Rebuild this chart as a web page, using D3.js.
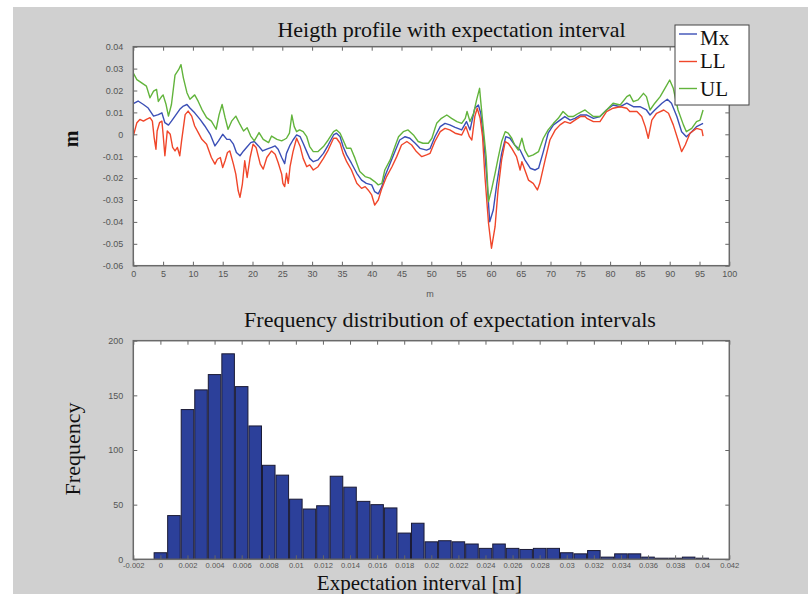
<!DOCTYPE html>
<html><head><meta charset="utf-8">
<script src="https://cdn.jsdelivr.net/npm/d3@7"></script>
<style>body{margin:0;background:#fff}svg{display:block}</style>
</head><body><svg id="c" width="808" height="594"></svg>
<script>
// ---------- DATA ----------
// Height profile: [distance m, height m]
const mxProfile = [[0,0.014],[0.8,0.0152],[1.7,0.0136],[2.5,0.012],[3.4,0.0083],[4.2,0.009],[4.8,0.0098],[5.3,0.0053],[5.9,0.0042],[6.4,0.006],[7.0,0.0083],[7.8,0.0114],[8.4,0.0129],[9.0,0.0136],[9.5,0.012],[10.3,0.0098],[11.2,0.0068],[12.0,0.0038],[12.9,0],[13.7,-0.0053],[14.3,-0.003],[15.0,0],[15.7,-0.0023],[16.2,-0.0023],[16.8,-0.0045],[17.3,-0.0083],[17.9,-0.0098],[18.5,-0.0076],[19.0,-0.006],[19.7,-0.0038],[20.3,-0.0033],[21.0,-0.0053],[21.7,-0.0076],[22.4,-0.0068],[23.2,-0.006],[23.8,-0.0053],[24.3,-0.0068],[24.9,-0.0106],[25.4,-0.0134],[25.7,-0.0087],[26.3,-0.0049],[26.8,-0.0026],[27.4,-0.0003],[28.0,-0.0011],[28.5,-0.0041],[29.1,-0.0079],[29.6,-0.011],[30.2,-0.0125],[31.0,-0.0117],[31.9,-0.0087],[32.7,-0.0049],[33.6,-0.0003],[34.1,0.0005],[34.7,-0.0011],[35.2,-0.0056],[35.8,-0.0094],[36.6,-0.0132],[37.5,-0.0178],[38.3,-0.0209],[39.1,-0.0224],[40.0,-0.0231],[40.5,-0.0262],[41.1,-0.0272],[41.7,-0.0239],[42.2,-0.0193],[43.1,-0.0132],[43.9,-0.0079],[44.7,-0.0026],[45.6,-0.0011],[46.4,-0.0018],[47.3,-0.0041],[48.1,-0.0064],[49.2,-0.0072],[49.8,-0.0065],[50.6,-0.0011],[51.5,0.0035],[52.3,0.005],[53.1,0.0043],[54.0,0.0032],[55.1,0.002],[55.9,0.0058],[56.5,0.002],[57.3,0.0119],[57.9,0.0134],[58.3,0.0096],[58.8,-0.0026],[59.3,-0.0193],[59.8,-0.0399],[60.4,-0.0346],[61.0,-0.0224],[61.8,-0.0087],[62.5,-0.0011],[63.2,-0.0018],[64.0,-0.0049],[64.9,-0.0072],[65.7,-0.0117],[66.6,-0.0155],[67.4,-0.0163],[68.0,-0.0155],[68.8,-0.0079],[69.6,0.0005],[70.5,0.0043],[71.6,0.0065],[72.4,0.0081],[73.3,0.0065],[74.1,0.0073],[75.0,0.0088],[75.8,0.0088],[76.1,0.0088],[77.2,0.0073],[78.3,0.0081],[79.4,0.0111],[80.5,0.0134],[81.7,0.0126],[82.8,0.0142],[83.9,0.0126],[85.0,0.0126],[86.1,0.0111],[86.7,0.0088],[87.5,0.0111],[88.7,0.0142],[89.6,0.016],[90.3,0.0142],[91.2,0.0081],[92.0,0.0012],[92.8,-0.0011],[93.7,0.0012],[94.5,0.0035],[95.6,0.005]];

const llProfile = [[0,-0.0008],[0.6,0.0053],[1.1,0.0068],[1.7,0.006],[2.2,0.0068],[2.8,0.0076],[3.2,0.006],[3.5,-0.0015],[3.8,-0.0068],[4.0,0.0015],[4.4,0.0053],[4.8,0.006],[5.0,0],[5.3,-0.0098],[5.7,0.0015],[6.2,0],[6.6,-0.006],[7.0,-0.0076],[7.4,-0.006],[7.8,-0.0098],[8.1,-0.003],[8.7,0.009],[9.2,0.0106],[9.8,0.0083],[10.3,0.0038],[10.9,0.0008],[11.5,-0.0023],[12.3,-0.0045],[13.1,-0.0106],[13.7,-0.0136],[14.1,-0.0114],[14.6,-0.0106],[15.0,-0.0152],[15.4,-0.0121],[15.8,-0.0083],[16.2,-0.0076],[16.8,-0.0136],[17.2,-0.0182],[17.6,-0.0258],[17.9,-0.0288],[18.3,-0.0227],[18.7,-0.0121],[19.1,-0.0197],[19.6,-0.0106],[20.1,-0.0045],[20.6,-0.006],[21.3,-0.0136],[21.8,-0.0159],[22.4,-0.0106],[23.2,-0.0076],[23.8,-0.0091],[24.3,-0.0129],[24.9,-0.0182],[25.1,-0.0224],[25.4,-0.0239],[25.7,-0.0178],[26.0,-0.0224],[26.3,-0.0148],[26.8,-0.0079],[27.4,-0.0018],[28.0,-0.0056],[28.5,-0.011],[29.1,-0.0148],[29.6,-0.014],[30.2,-0.0163],[31.0,-0.0148],[31.9,-0.011],[32.7,-0.0072],[33.6,-0.0018],[34.1,-0.0018],[34.7,-0.0041],[35.2,-0.0087],[35.8,-0.0125],[36.6,-0.0163],[37.5,-0.0224],[38.3,-0.0247],[38.9,-0.0239],[39.4,-0.0254],[40.0,-0.0277],[40.5,-0.0323],[41.1,-0.03],[41.7,-0.0247],[42.5,-0.0193],[43.4,-0.0148],[44.2,-0.0102],[45.0,-0.0049],[45.9,-0.0033],[46.7,-0.0049],[47.5,-0.0079],[48.4,-0.0102],[49.2,-0.0094],[49.8,-0.0087],[50.6,-0.0033],[51.5,0.0012],[52.3,0.0027],[53.1,0.002],[54.0,0.0005],[55.1,-0.0003],[55.8,0.0035],[56.4,-0.0011],[56.8,-0.0026],[57.3,0.0081],[57.7,0.0119],[58.2,0.0073],[58.6,-0.0011],[59.0,-0.0193],[59.6,-0.0406],[60.1,-0.052],[60.7,-0.0422],[61.2,-0.0254],[61.8,-0.0117],[62.4,-0.0033],[62.9,-0.0041],[63.5,-0.0064],[64.3,-0.0102],[64.9,-0.0163],[65.2,-0.0125],[65.7,-0.0163],[66.3,-0.0209],[67.1,-0.0224],[67.8,-0.0254],[68.2,-0.0224],[69.1,-0.0117],[69.9,-0.0026],[70.8,0.002],[71.6,0.0043],[72.4,0.0058],[73.3,0.005],[74.1,0.0065],[75.0,0.0081],[75.8,0.0081],[76.1,0.0073],[77.2,0.0058],[78.3,0.0058],[79.4,0.0104],[80.5,0.0119],[81.7,0.0126],[82.8,0.0119],[83.3,0.0104],[84.5,0.0104],[85.3,0.0081],[85.9,0.0035],[86.4,-0.0018],[87.0,0.0065],[87.8,0.0096],[89.0,0.0111],[89.8,0.0096],[90.6,0.0043],[91.4,-0.0026],[92.0,-0.0079],[92.6,-0.0049],[93.4,0.0005],[94.5,0.0027],[95.4,0.002],[95.6,-0.0008]];

const ulProfile = [[0,0.028],[0.6,0.025],[1.4,0.0235],[2.2,0.022],[2.8,0.0167],[3.4,0.0197],[3.9,0.0205],[4.2,0.015],[4.8,0.0174],[5.0,0.018],[5.5,0.0136],[5.9,0.0083],[6.4,0.0136],[7.0,0.027],[7.6,0.0295],[8.0,0.0318],[8.4,0.0258],[9.0,0.019],[9.5,0.016],[10.3,0.018],[10.9,0.015],[11.5,0.0114],[12.3,0.0076],[13.1,0.006],[13.9,0.0023],[14.4,0.009],[14.9,0.0136],[15.4,0.0076],[15.9,0.0023],[16.5,0.006],[17.2,0.0083],[17.9,0.0045],[18.5,0.0015],[19.1,0.003],[19.7,-0.0008],[20.3,-0.003],[21.1,0.0008],[21.8,-0.0023],[22.7,-0.0038],[23.2,-0.0008],[24.1,-0.0023],[24.9,-0.003],[25.2,-0.0026],[25.7,-0.0018],[26.2,0.0005],[26.6,0.0088],[27.0,0.0035],[27.4,0.0012],[27.9,0.002],[28.5,0.0012],[29.1,-0.0011],[29.6,-0.0056],[30.2,-0.0079],[31.0,-0.0079],[31.9,-0.0056],[32.7,-0.0026],[33.6,0.0012],[34.1,0.002],[34.7,0.0005],[35.2,-0.0026],[35.8,-0.0064],[36.5,-0.0064],[37.2,-0.011],[38.0,-0.017],[38.9,-0.0193],[39.7,-0.02],[40.5,-0.0216],[41.1,-0.0231],[41.7,-0.0224],[42.2,-0.0163],[43.1,-0.0117],[43.9,-0.0056],[44.5,-0.0011],[45.3,0.0012],[46.1,0.002],[47.0,-0.0003],[47.8,-0.0033],[48.6,-0.0041],[49.5,-0.0041],[50.1,-0.0018],[50.6,0.0025],[50.9,0.005],[51.7,0.0073],[52.6,0.0088],[53.4,0.0073],[54.3,0.0058],[55.1,0.005],[55.7,0.0073],[56.0,0.0104],[56.5,0.0058],[57.1,0.0096],[57.6,0.0157],[58.1,0.021],[58.3,0.0149],[58.7,0.0035],[59.2,-0.0102],[59.6,-0.0307],[60.1,-0.0254],[60.7,-0.0178],[61.2,-0.011],[61.8,-0.0033],[62.4,0.0012],[62.9,0.0005],[63.5,-0.0018],[64.0,-0.0049],[64.6,-0.0072],[65.2,-0.0018],[65.7,-0.0072],[66.3,-0.0102],[67.1,-0.0094],[68.0,-0.0079],[68.8,-0.0018],[69.6,0.002],[70.5,0.005],[71.3,0.0073],[72.1,0.0104],[73.0,0.0081],[73.8,0.0081],[74.7,0.0096],[75.8,0.0111],[76.1,0.0104],[77.2,0.0081],[78.3,0.0081],[79.4,0.0111],[80.5,0.0142],[81.7,0.0134],[82.8,0.0172],[83.3,0.018],[83.9,0.0149],[84.7,0.0157],[85.6,0.0187],[86.1,0.0172],[86.7,0.0111],[87.5,0.0142],[88.4,0.0172],[89.2,0.021],[90.0,0.0248],[90.6,0.021],[91.4,0.0111],[92.3,0.0043],[92.8,0.0012],[93.7,0.0027],[94.5,0.0058],[95.1,0.0065],[95.6,0.0111]];

const seriesNames = ["Mx", "LL", "UL"];
const seriesColors = ["#3b4fb6", "#f0462a", "#62b43c"];

const profileXTicks = [0,5,10,15,20,25,30,35,40,45,50,55,60,65,70,75,80,85,90,95,100];
const profileYTicks = [0.04,0.03,0.02,0.01,0,-0.01,-0.02,-0.03,-0.04,-0.05,-0.06];

// Histogram: bin centres [m] and counts
const binCenters = [0,0.001,0.002,0.003,0.004,0.005,0.006,0.007,0.008,0.009,0.010,0.011,0.012,0.013,0.014,0.015,0.016,0.017,0.018,0.019,0.020,0.021,0.022,0.023,0.024,0.025,0.026,0.027,0.028,0.029,0.030,0.031,0.032,0.033,0.034,0.035,0.036,0.037,0.038,0.039,0.040];
const binCounts  = [6,40,137,155,169,188,158,122,86,77,55,46,49,76,66,53,50,47,24,33,16,17,16,14,10,14,10,9,10,10,6,5,8,2,5,5,2,1,1,2,1];
const binWidth = 0.001;
const histXTicks = [-0.002,0,0.002,0.004,0.006,0.008,0.01,0.012,0.014,0.016,0.018,0.02,0.022,0.024,0.026,0.028,0.03,0.032,0.034,0.036,0.038,0.04,0.042];
const histYTicks = [0,50,100,150,200];

// ---------- DRAWING ----------
const svg = d3.select("#c");
const SERIF = "'Liberation Serif','Times New Roman',serif";
const SANS = "'Liberation Sans',Arial,sans-serif";

svg.append("rect").attr("x",13).attr("y",7).attr("width",795).attr("height",587).attr("fill","#d0d0d0");

const fmt = d => String(+d.toFixed(4));

function frameAxes(g, P, xs, ys, xTicks, yTicks, xFs, yFs, xPad) {
  const tk = (sel) => { sel.select(".domain").remove(); sel.selectAll(".tick line").attr("stroke","#666").attr("stroke-width",1); };
  g.append("g").attr("transform",`translate(${P.l},0)`)
    .call(d3.axisLeft(ys).tickValues(yTicks).tickSize(-4).tickPadding(10).tickFormat(fmt))
    .call(tk).call(s=>s.selectAll("text").attr("font-family",SANS).attr("font-size",yFs).attr("fill","#555"));
  g.append("g").attr("transform",`translate(${P.r},0)`)
    .call(d3.axisRight(ys).tickValues(yTicks).tickSize(-4).tickFormat(""))
    .call(tk);
  g.append("g").attr("transform",`translate(0,${P.t})`)
    .call(d3.axisTop(xs).tickValues(xTicks).tickSize(-4).tickFormat(""))
    .call(tk);
  g.append("g").attr("transform",`translate(0,${P.b})`)
    .call(d3.axisBottom(xs).tickValues(xTicks).tickSize(-4).tickPadding(xPad).tickFormat(fmt))
    .call(tk).call(s=>s.selectAll("text").attr("font-family",SANS).attr("font-size",xFs).attr("fill","#555"));
  g.append("rect").attr("x",P.l).attr("y",P.t).attr("width",P.r-P.l).attr("height",P.b-P.t)
    .attr("fill","none").attr("stroke","#6a6a6a").attr("stroke-width",1.5);
}

// ---- top panel ----
const P1 = {l:133.3, r:729.3, t:46.7, b:265.7};
const x1 = d3.scaleLinear().domain([0,100]).range([P1.l,P1.r]);
const y1 = d3.scaleLinear().domain([-0.06,0.04]).range([P1.b,P1.t]);
const g1 = svg.append("g");
g1.append("rect").attr("x",P1.l).attr("y",P1.t).attr("width",P1.r-P1.l).attr("height",P1.b-P1.t).attr("fill","#fff");
g1.append("clipPath").attr("id","cp1").append("rect").attr("x",P1.l).attr("y",P1.t).attr("width",P1.r-P1.l).attr("height",P1.b-P1.t);
const line1 = d3.line().x(d=>x1(d[0])).y(d=>y1(d[1]));
[mxProfile, llProfile, ulProfile].forEach((s,i)=>{
  g1.append("path").datum(s).attr("clip-path","url(#cp1)").attr("d",line1)
    .attr("fill","none").attr("stroke",seriesColors[i]).attr("stroke-width",1.4).attr("stroke-linejoin","round");
});
frameAxes(g1, P1, x1, y1, profileXTicks, profileYTicks, 9, 9, 5);

svg.append("text").attr("x",451.5).attr("y",37).attr("text-anchor","middle")
  .attr("font-family",SERIF).attr("font-size",22).attr("fill","#111")
  .text("Heigth profile with expectation interval");
svg.append("text").attr("x",430).attr("y",296.5).attr("text-anchor","middle")
  .attr("font-family",SANS).attr("font-size",9).attr("fill","#555").text("m");
svg.append("text").attr("transform","translate(78,139) rotate(-90)").attr("text-anchor","middle")
  .attr("font-family",SERIF).attr("font-weight","bold").attr("font-size",20).attr("fill","#111").text("m");

// legend
const lg = svg.append("g");
lg.append("rect").attr("x",675).attr("y",25).attr("width",74).attr("height",80)
  .attr("fill","#fff").attr("stroke","#444").attr("stroke-width",1);
const legLineY = [34, 61.5, 88.5];
const legTextY = [44.5, 68, 96];
seriesNames.forEach((n,i)=>{
  lg.append("line").attr("x1",679).attr("x2",697).attr("y1",legLineY[i]).attr("y2",legLineY[i])
    .attr("stroke",seriesColors[i]).attr("stroke-width",1.4);
  lg.append("text").attr("x",700).attr("y",legTextY[i]).attr("font-family",SERIF)
    .attr("font-size",21).attr("fill","#111").text(n);
});

// ---- bottom panel ----
const P2 = {l:133.3, r:729.3, t:340.7, b:559.3};
const x2 = d3.scaleLinear().domain([-0.002,0.042]).range([P2.l,P2.r]);
const y2 = d3.scaleLinear().domain([0,200]).range([P2.b,P2.t]);
const g2 = svg.append("g");
g2.append("rect").attr("x",P2.l).attr("y",P2.t).attr("width",P2.r-P2.l).attr("height",P2.b-P2.t).attr("fill","#fff");
g2.selectAll("rect.bar").data(binCenters).join("rect").attr("class","bar")
  .attr("x",(c)=>x2(c-binWidth/2)+0.5)
  .attr("width",(c)=>x2(c+binWidth/2)-x2(c-binWidth/2)-1)
  .attr("y",(c,i)=>y2(binCounts[i]))
  .attr("height",(c,i)=>y2(0)-y2(binCounts[i]))
  .attr("fill","#2c409a").attr("stroke","#1a1a35").attr("stroke-width",1);
frameAxes(g2, P2, x2, y2, histXTicks, histYTicks, 7.6, 9, 3);

svg.append("text").attr("x",450).attr("y",327).attr("text-anchor","middle")
  .attr("font-family",SERIF).attr("font-size",22).attr("fill","#111")
  .text("Frequency distribution of expectation intervals");
svg.append("text").attr("x",419.5).attr("y",590).attr("text-anchor","middle")
  .attr("font-family",SERIF).attr("font-size",21).attr("fill","#111")
  .text("Expectation interval [m]");
svg.append("text").attr("transform","translate(80,449) rotate(-90)").attr("text-anchor","middle")
  .attr("font-family",SERIF).attr("font-size",22).attr("fill","#111").text("Frequency");
</script></body></html>
